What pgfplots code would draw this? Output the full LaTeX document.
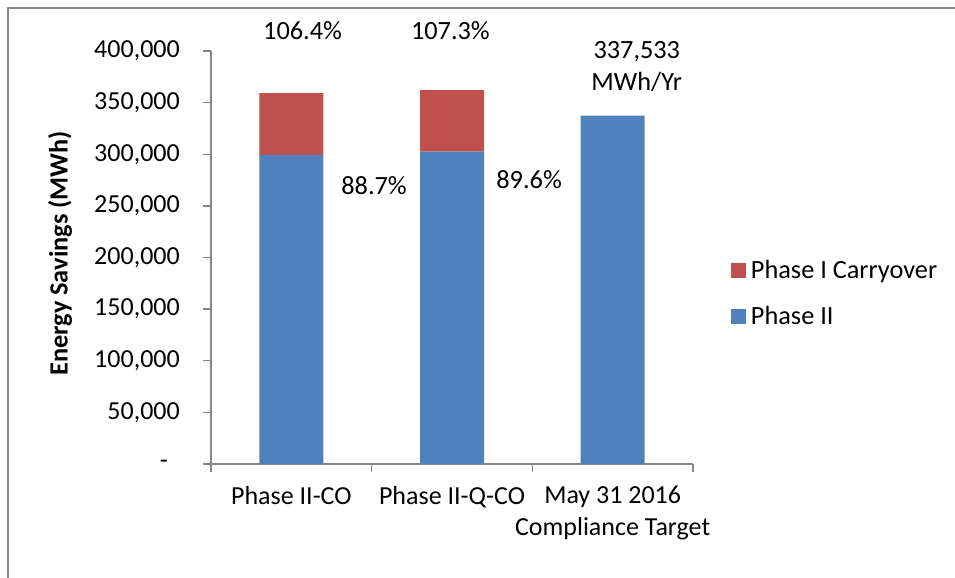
\documentclass[border=0pt]{standalone}
\usepackage{pgfplots}
\pgfplotsset{compat=1.18}
\usepackage{fontspec}
\setmainfont{Carlito}
\definecolor{bblue}{HTML}{4F81BD}
\definecolor{bred}{HTML}{C0504D}
\definecolor{axgray}{HTML}{868686}
\begin{document}
\begin{tikzpicture}
\path[use as bounding box] (0,0) rectangle (955bp,-578bp);
\draw[color=axgray, line width=1.3bp] (8bp,-580bp) -- (8bp,-8bp) -- (957bp,-8bp);
\begin{axis}[
  at={(211bp,-464bp)}, anchor=south west,
  scale only axis, width=482bp, height=413bp,
  ybar stacked, bar width=64bp,
  xmin=-0.5, xmax=2.5, ymin=0, ymax=400000,
  clip=false,
  axis x line*=bottom, axis y line*=left,
  axis line style={axgray, line width=1.3bp, -},
  xtick={0,1,2},
  xticklabels={Phase II-CO, Phase II-Q-CO, {May 31 2016\\Compliance Target}},
  minor xtick={-0.5,0.5,1.5,2.5},
  scaled y ticks=false,
  ytick={0,50000,100000,150000,200000,250000,300000,350000,400000},
  yticklabels={{-\hspace*{12bp}},{50,000},{100,000},{150,000},{200,000},{250,000},{300,000},{350,000},{400,000}},
  tick align=outside,
  major tick length=8bp, minor tick length=8bp,
  tick style={axgray, line width=1.3bp},
  major x tick style={draw=none},
  font=\fontsize{26.3bp}{32bp}\selectfont,
  tick label style={font=\fontsize{26bp}{32bp}\selectfont},
  xticklabel style={align=center, anchor=north, inner sep=0pt, yshift=-14bp},
  yticklabel style={anchor=east, inner sep=0pt, xshift=-23bp},
  ylabel={\textbf{Energy Savings (MWh)}},
  ylabel style={at={(axis description cs:0,0.51)}, anchor=center, yshift=151bp},
  legend style={draw=none, fill=none, at={(axis description cs:1.0788,0.413)}, anchor=west,
    inner sep=0pt, outer sep=0pt, row sep=26bp,
    nodes={inner xsep=5bp, inner ysep=0pt}},
  legend cell align=left,
  reverse legend,
  legend image code/.code={\fill[#1] (0bp,-7.5bp) rectangle (15bp,7.5bp);},
]
\addplot[fill=bblue, draw=none] coordinates {(0,299392) (1,302430) (2,337533)};
\addlegendentry{Phase II}
\addplot[fill=bred, draw=none] coordinates {(0,59743) (1,59743) (2,0)};
\addlegendentry{Phase I Carryover}
\node at (axis cs:0.07,419300) {106.4\%};
\node at (axis cs:0.99,419300) {107.3\%};
\node at (axis cs:0.515,269240) {88.7\%};
\node at (axis cs:1.48,275050) {89.6\%};
\node[align=center] at (axis cs:2.15,385400) {337,533\\MWh/Yr};
\end{axis}
\end{tikzpicture}
\end{document}
